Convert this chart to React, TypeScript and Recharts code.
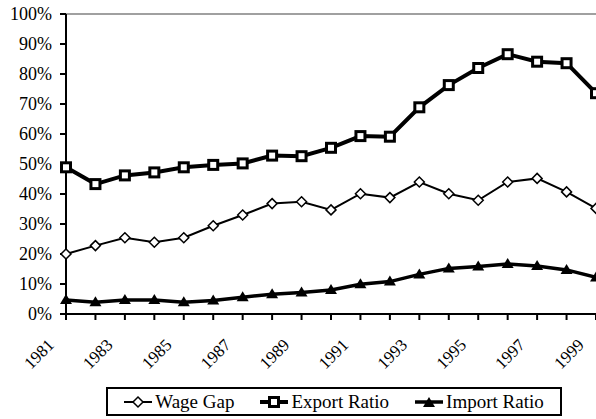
import React from "react"
import { LineChart, Line, XAxis, YAxis, ReferenceLine } from "recharts"

const years = ["1981", "1982", "1983", "1984", "1985", "1986", "1987", "1988", "1989", "1990", "1991", "1992", "1993", "1994", "1995", "1996", "1997", "1998", "1999"]
const wageGap = [20.0, 22.8, 25.4, 23.9, 25.4, 29.4, 33.0, 36.8, 37.4, 34.7, 40.1, 38.8, 44.0, 40.1, 37.9, 44.0, 45.2, 40.7, 35.2]
const exportRatio = [48.9, 43.3, 46.2, 47.2, 48.9, 49.7, 50.2, 52.8, 52.6, 55.4, 59.3, 59.1, 68.9, 76.3, 82.0, 86.6, 84.1, 83.6, 73.6]
const importRatio = [4.7, 3.9, 4.7, 4.7, 3.9, 4.5, 5.6, 6.6, 7.2, 8.0, 9.9, 10.8, 13.2, 15.2, 15.8, 16.7, 16.0, 14.7, 12.2]
const yTicks = [0, 10, 20, 30, 40, 50, 60, 70, 80, 90, 100]

const seriesNames = ["Wage Gap", "Export Ratio", "Import Ratio"]

const data = years.map((year, i) => ({
  year,
  wage: wageGap[i],
  exp: exportRatio[i],
  imp: importRatio[i],
}))

const FONT = "Liberation Serif"

function Diamond({ cx, cy }: any) {
  if (cx == null || cy == null) return null
  const r = 5
  return (
    <polygon
      points={`${cx},${cy - r} ${cx + r},${cy} ${cx},${cy + r} ${cx - r},${cy}`}
      fill="#fff"
      stroke="#000"
      strokeWidth={1.5}
    />
  )
}

function Square({ cx, cy }: any) {
  if (cx == null || cy == null) return null
  return <rect x={cx - 4.5} y={cy - 4.5} width={9} height={9} fill="#fff" stroke="#000" strokeWidth={3} />
}

function Triangle({ cx, cy }: any) {
  if (cx == null || cy == null) return null
  return <polygon points={`${cx},${cy - 6} ${cx + 6},${cy + 4} ${cx - 6},${cy + 4}`} fill="#000" />
}

function YearTick({ x, y, payload, index }: any) {
  if (index % 2 !== 0) return null
  const ax = x - 11
  const ay = y + 24
  return (
    <text
      x={ax}
      y={ay}
      textAnchor="end"
      transform={`rotate(-45, ${ax}, ${ay})`}
      fontFamily={FONT}
      fontSize={17}
      fill="#000"
    >
      {payload.value}
    </text>
  )
}

function LegendIcon({ idx }: { idx: number }) {
  const w = [2, 4, 3.5][idx]
  return (
    <svg width={28} height={14} style={{ display: "block" }}>
      <line x1={0} y1={7} x2={28} y2={7} stroke="#000" strokeWidth={w} />
      {idx === 0 && <Diamond cx={14} cy={7} />}
      {idx === 1 && <Square cx={14} cy={7} />}
      {idx === 2 && <Triangle cx={14} cy={8} />}
    </svg>
  )
}

export default function App() {
  return (
    <div style={{ position: "absolute", left: 0, top: 0, width: 596, height: 419, overflow: "hidden", background: "#fff", fontFamily: FONT }}>
      <LineChart width={600} height={419} data={data} margin={{ top: 14, right: 4, left: 0, bottom: 0 }}>
        <ReferenceLine y={100} stroke="#808080" strokeWidth={1.5} />
        <XAxis
          dataKey="year"
          interval={0}
          height={105}
          axisLine={{ stroke: "#000", strokeWidth: 2 }}
          tickLine={{ stroke: "#000", strokeWidth: 2 }}
          tickSize={6}
          tick={<YearTick />}
        />
        <YAxis
          width={66}
          domain={[0, 100]}
          ticks={yTicks}
          interval={0}
          tickFormatter={(v: number) => `${v}%`}
          axisLine={{ stroke: "#000", strokeWidth: 2 }}
          tickLine={{ stroke: "#000", strokeWidth: 2 }}
          tickSize={6}
          tickMargin={8}
          tick={{ fill: "#000", fontSize: 18, fontFamily: FONT }}
        />
        <Line dataKey="wage" name={seriesNames[0]} stroke="#000" strokeWidth={2} dot={(p: any) => <Diamond key={`w${p.index}`} {...p} />} isAnimationActive={false} />
        <Line dataKey="exp" name={seriesNames[1]} stroke="#000" strokeWidth={4} dot={(p: any) => <Square key={`e${p.index}`} {...p} />} isAnimationActive={false} />
        <Line dataKey="imp" name={seriesNames[2]} stroke="#000" strokeWidth={3.5} dot={(p: any) => <Triangle key={`i${p.index}`} {...p} />} isAnimationActive={false} />
      </LineChart>
      <div
        style={{
          position: "absolute",
          left: 106,
          top: 387,
          width: 456,
          height: 29,
          boxSizing: "border-box",
          border: "2px solid #000",
          display: "flex",
          alignItems: "center",
          justifyContent: "center",
          gap: 26,
          fontFamily: FONT,
          fontSize: 19,
          color: "#000",
        }}
      >
        {seriesNames.map((name, i) => (
          <div key={name} style={{ display: "flex", alignItems: "center", gap: 3 }}>
            <LegendIcon idx={i} />
            <span style={{ lineHeight: "20px" }}>{name}</span>
          </div>
        ))}
      </div>
    </div>
  )
}
